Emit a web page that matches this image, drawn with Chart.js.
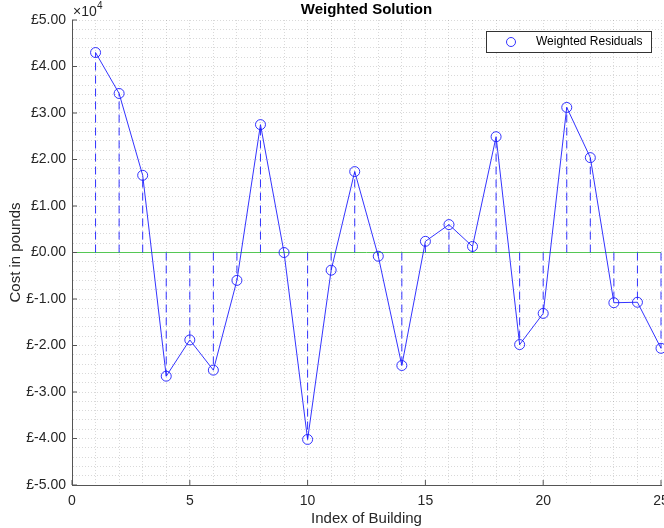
<!DOCTYPE html>
<html>
<head>
<meta charset="utf-8">
<script src="https://cdn.jsdelivr.net/npm/chart.js@4/dist/chart.umd.min.js"></script>
<style>
html,body{margin:0;padding:0;background:#fff;}
#wrap{width:664px;height:528px;position:relative;}
</style>
</head>
<body>
<div id="wrap"><canvas id="c" width="664" height="528"></canvas></div>
<script>
const buildingIndex = [1,2,3,4,5,6,7,8,9,10,11,12,13,14,15,16,17,18,19,20,21,22,23,24,25];
const weightedResiduals = [43000,34200,16600,-26600,-18800,-25300,-6000,27500,0,-40200,-3800,17400,-800,-24300,2400,6000,1300,24900,-19800,-13100,31200,20400,-10800,-10700,-20600];
const chartTitle = 'Weighted Solution';
const legendLabel = 'Weighted Residuals';
const xLabel = 'Index of Building';
const yLabel = 'Cost in pounds';
const exponentLabel = '4';

const BLUE = 'rgba(30,30,255,0.9)';
const FONT = '"Liberation Sans", Arial, Helvetica, sans-serif';

const points = buildingIndex.map((x, i) => ({x: x, y: weightedResiduals[i]}));

const decor = {
  id: 'decor',
  beforeDatasetsDraw(chart) {
    const {ctx, chartArea: a, scales: {x, y}} = chart;
    ctx.save();
    const y0 = y.getPixelForValue(0);
    ctx.strokeStyle = '#55c855';
    ctx.lineWidth = 1;
    ctx.beginPath();
    ctx.moveTo(a.left, y0); ctx.lineTo(a.right, y0);
    ctx.stroke();
    ctx.strokeStyle = BLUE;
    ctx.setLineDash([8, 5]);
    points.forEach(p => {
      const px = x.getPixelForValue(p.x);
      ctx.beginPath();
      ctx.moveTo(px, y0);
      ctx.lineTo(px, y.getPixelForValue(p.y));
      ctx.stroke();
    });
    ctx.setLineDash([]);
    ctx.strokeStyle = '#555';
    for (let v = -50000; v <= 50000; v += 10000) {
      const py = y.getPixelForValue(v);
      ctx.beginPath(); ctx.moveTo(a.left, py); ctx.lineTo(a.left + 5, py); ctx.stroke();
    }
    for (let v = 0; v <= 25; v += 5) {
      const px = x.getPixelForValue(v);
      ctx.beginPath(); ctx.moveTo(px, a.bottom); ctx.lineTo(px, a.bottom - 5); ctx.stroke();
    }
    ctx.restore();
  },
  afterDraw(chart) {
    const {ctx, chartArea: a} = chart;
    ctx.save();
    ctx.fillStyle = '#000';
    ctx.font = 'bold 15px ' + FONT;
    ctx.textAlign = 'center';
    ctx.textBaseline = 'middle';
    ctx.fillText(chartTitle, (a.left + a.right) / 2, 10);
    ctx.fillStyle = '#262626';
    ctx.font = '14px ' + FONT;
    ctx.textAlign = 'left';
    ctx.fillText('\u00D710', 73, 12);
    ctx.font = '10px ' + FONT;
    ctx.fillText(exponentLabel, 97, 6);
    const lx = 486, ly = 31, lw = 165, lh = 21;
    ctx.fillStyle = '#fff';
    ctx.fillRect(lx, ly, lw, lh);
    ctx.strokeStyle = '#333';
    ctx.lineWidth = 1;
    ctx.strokeRect(lx + 0.5, ly + 0.5, lw, lh);
    ctx.strokeStyle = BLUE;
    ctx.beginPath(); ctx.arc(511, 42, 4.5, 0, Math.PI * 2); ctx.stroke();
    ctx.fillStyle = '#000';
    ctx.font = '12px ' + FONT;
    ctx.textBaseline = 'middle';
    ctx.fillText(legendLabel, 536, 42);
    ctx.restore();
  }
};

new Chart(document.getElementById('c'), {
  type: 'line',
  data: {
    datasets: [{
      label: legendLabel,
      data: points,
      borderColor: BLUE,
      borderWidth: 1,
      pointStyle: 'circle',
      pointRadius: 5,
      pointBorderColor: BLUE,
      pointBackgroundColor: 'rgba(0,0,0,0)',
      pointBorderWidth: 1,
      tension: 0,
      fill: false,
      clip: false
    }]
  },
  options: {
    responsive: false,
    animation: false,
    devicePixelRatio: 1,
    layout: {autoPadding: false, padding: {top: 20, right: 3, left: 0, bottom: 0}},
    plugins: {
      legend: {display: false},
      title: {display: false},
      tooltip: {enabled: false}
    },
    scales: {
      x: {
        type: 'linear',
        min: 0, max: 25,
        afterFit(s) { s.height = 43; s.paddingLeft = 0; s.paddingRight = 0; },
        ticks: {
          stepSize: 1,
          autoSkip: false,
          maxRotation: 0,
          padding: 8,
          color: '#262626',
          font: {family: FONT, size: 14},
          callback: v => (v % 5 === 0 ? String(v) : '')
        },
        grid: {
          color: 'rgba(0,0,0,0.15)',
          lineWidth: 1,
          drawTicks: false
        },
        border: {display: true, color: '#555', dash: [1, 2]},
        title: {
          display: true, text: xLabel, color: '#262626',
          font: {family: FONT, size: 15}, padding: {top: 0, bottom: 0}
        }
      },
      y: {
        type: 'linear',
        min: -50000, max: 50000,
        afterFit(s) { s.width = 72; s.paddingTop = 0; s.paddingBottom = 0; },
        ticks: {
          stepSize: 2000,
          autoSkip: false,
          padding: 6,
          color: '#262626',
          font: {family: FONT, size: 14},
          callback: v => (Math.abs(v % 10000) < 1e-6 ? '\u00A3' + (Math.round(v / 10000) + 0).toFixed(2) : '')
        },
        grid: {
          color: 'rgba(0,0,0,0.15)',
          lineWidth: 1,
          drawTicks: false
        },
        border: {display: true, color: '#555', dash: [1, 2]},
        title: {
          display: true, text: yLabel, color: '#262626',
          font: {family: FONT, size: 15}, padding: {top: 7, bottom: 0}
        }
      }
    }
  },
  plugins: [decor]
});
</script>
</body>
</html>
